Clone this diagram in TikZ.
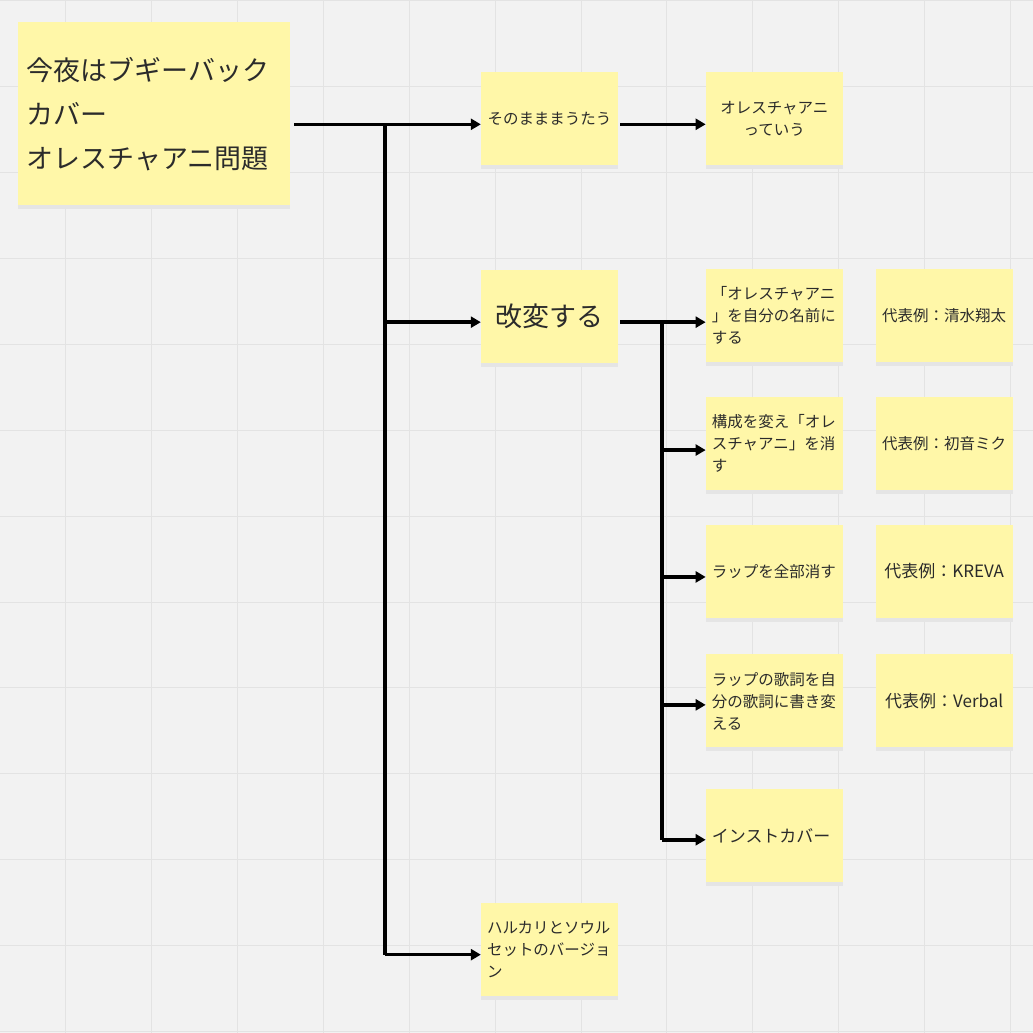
\documentclass[tikz,border=0pt]{standalone}
\usepackage{fontspec}
\setmainfont{Noto Sans CJK JP}
\usetikzlibrary{arrows.meta}
\definecolor{bg}{HTML}{F2F2F2}
\definecolor{gridc}{HTML}{E3E3E3}
\definecolor{sticky}{HTML}{FFF7A8}
\definecolor{ink}{HTML}{2B2B2B}
\begin{document}
\begin{tikzpicture}[x=1pt,y=-1pt,
  note/.style={fill=sticky,draw=none,text=ink,minimum width=137pt,minimum height=93pt,inner sep=6pt,font=\fontsize{15.5}{22}\selectfont},
  lnote/.style={note,align=left,text width=125pt},
  cnote/.style={note,align=center},
  conn/.style={line width=3.6pt,black},
  arr/.style={conn,-{Triangle[length=10pt,width=11pt]}}]
\fill[bg] (0,0) rectangle (1033,1033);
\foreach \x in {65,151,237,323,409,495,581,667,753,839,925,1011}
  \draw[gridc,line width=0.8pt] (\x,0) -- (\x,1033);
\foreach \y in {0,86,172,258,344,430,516,602,688,774,860,946,1032}
  \draw[gridc,line width=0.8pt] (0,\y) -- (1033,\y);
\tikzset{shadowed/.style={preaction={fill=black!10,transform canvas={yshift=-4pt}}}}
\node[note,shadowed,minimum width=272pt,minimum height=183pt,align=left,text width=255pt,font=\fontsize{27}{44}\selectfont] (root) at (154,113.5) {今夜はブギーバック\\カバー\\オレスチャアニ問題};
\node[cnote,shadowed] (sono) at (549.5,118.5) {そのまままうたう};
\node[cnote,shadowed] (ore) at (774.5,118.5) {オレスチャアニ\\っていう};
\node[cnote,shadowed,font=\fontsize{27}{34}\selectfont] (kai) at (549.5,316) {改変する};
\node[lnote,shadowed] (n1) at (774.5,315) {「オレスチャアニ\\」を自分の名前に\\する};
\node[cnote,shadowed] (e1) at (944.5,315) {代表例：清水翔太};
\node[lnote,shadowed] (n2) at (774.5,443.5) {構成を変え「オレ\\スチャアニ」を消\\す};
\node[cnote,shadowed] (e2) at (944.5,443.5) {代表例：初音ミク};
\node[lnote,shadowed] (n3) at (774.5,571.5) {ラップを全部消す};
\node[cnote,shadowed,font=\fontsize{17}{22}\selectfont] (e3) at (944.5,571.5) {代表例：KREVA};
\node[lnote,shadowed] (n4) at (774.5,701) {ラップの歌詞を自\\分の歌詞に書き変\\える};
\node[cnote,shadowed,font=\fontsize{17}{22}\selectfont] (e4) at (944.5,701) {代表例：Verbal};
\node[lnote,shadowed,font=\fontsize{17}{22}\selectfont] (n5) at (774.5,836) {インストカバー};
\node[lnote,shadowed] (n6) at (549.5,950) {ハルカリとソウル\\セットのバージョ\\ン};
\coordinate (t0) at (385,124);
\coordinate (t1) at (385,322);
\coordinate (t2) at (385,955);
\coordinate (b0) at (662,322);
\coordinate (b1) at (662,450);
\coordinate (b2) at (662,577);
\coordinate (b3) at (662,705);
\coordinate (b4) at (662,840);
\draw[conn] ([xshift=4pt]root.east |- t0) -- (t0) -- (t2);
\draw[arr] (t0) -- (sono.west |- t0);
\draw[arr] ([xshift=2pt]sono.east |- t0) -- (ore.west |- t0);
\draw[arr] (t1) -- (kai.west |- t1);
\draw[arr] (t2) -- (n6.west |- t2);
\draw[conn] ([xshift=2pt]kai.east |- b0) -- (b0) -- (b4);
\draw[arr] (b0) -- (n1.west |- b0);
\draw[arr] (b1) -- (n2.west |- b1);
\draw[arr] (b2) -- (n3.west |- b2);
\draw[arr] (b3) -- (n4.west |- b3);
\draw[arr] (b4) -- (n5.west |- b4);
\end{tikzpicture}
\end{document}
